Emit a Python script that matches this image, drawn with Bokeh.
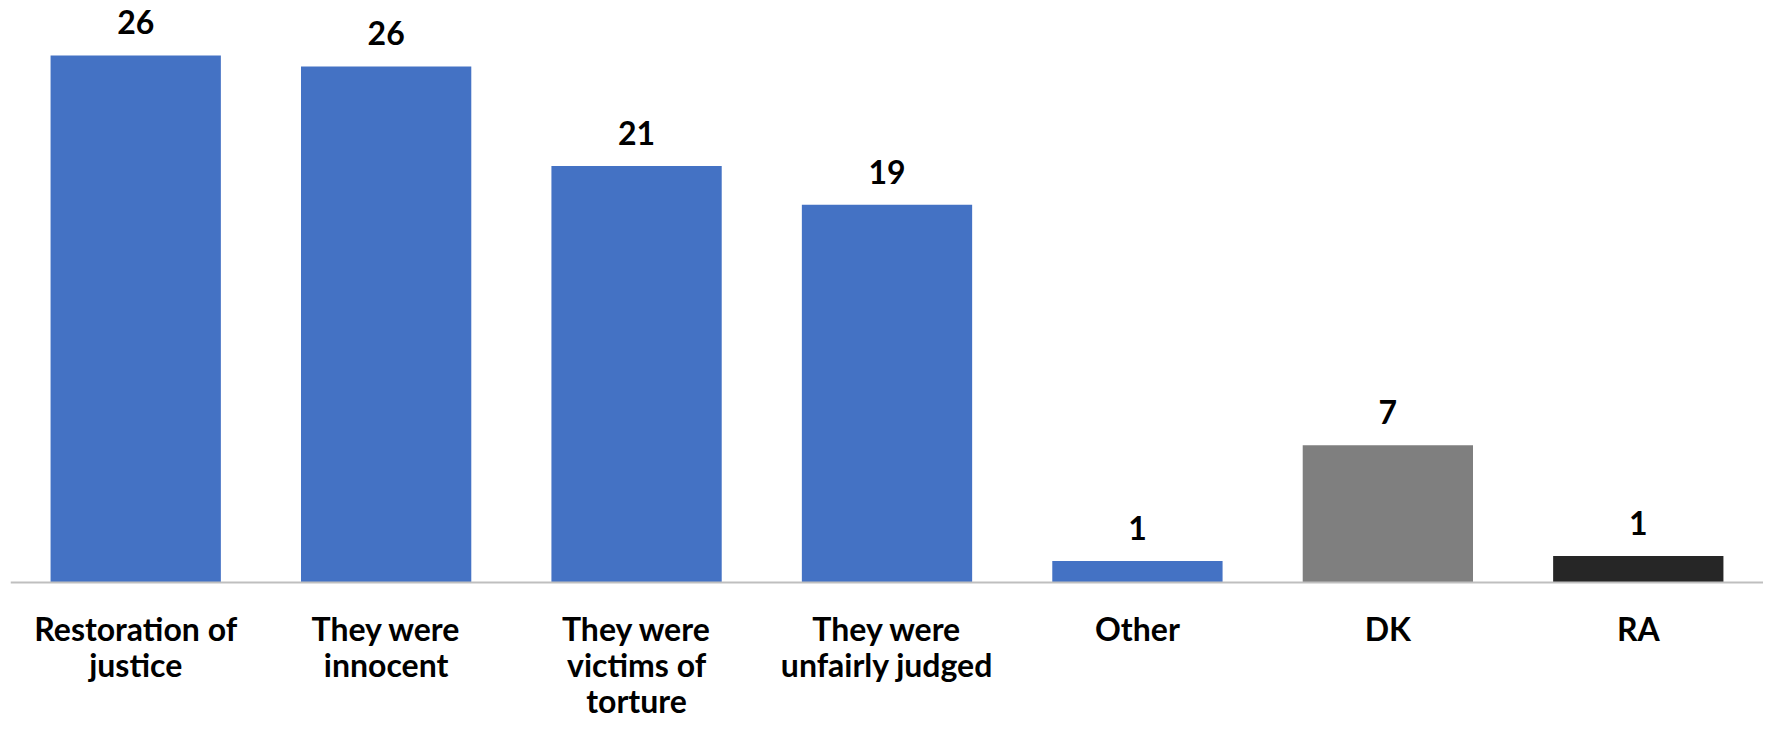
from bokeh.plotting import figure
from bokeh.models import ColumnDataSource, FactorRange, Range1d, Span
from bokeh.core.properties import value
from bokeh.embed import file_html
from bokeh.resources import INLINE

categories = ["Restoration of justice", "They were innocent", "They were victims of torture",
              "They were unfairly judged", "Other", "DK", "RA"]
tick_lines = [["Restoration of", "justice"], ["They were", "innocent"],
              ["They were", "victims of", "torture"], ["They were", "unfairly judged"],
              ["Other"], ["DK"], ["RA"]]
values = [26.55, 26.0, 20.98, 19.03, 1.09, 6.92, 1.34]
labels = ["26", "26", "21", "19", "1", "7", "1"]
colors = ["#4472C4", "#4472C4", "#4472C4", "#4472C4", "#4472C4", "#7F7F7F", "#262626"]

FONT = "Lato"
LINE_GAP = 36
FIRST_LINE = 46

src = ColumnDataSource(dict(cat=categories, val=values, lab=labels, col=colors))

# multi-line category labels, one row per text line
lc, lt, ly = [], [], []
for c, lines in zip(categories, tick_lines):
    for i, t in enumerate(lines):
        lc.append(c)
        lt.append(t)
        ly.append(FIRST_LINE + LINE_GAP * i)
line_src = ColumnDataSource(dict(cat=lc, txt=lt, zero=[0] * len(lc), dy=ly))

p = figure(x_range=FactorRange(*categories, range_padding=0),
           y_range=Range1d(-7.05, 29.32),
           width=1763, height=722, output_backend="svg", toolbar_location=None,
           min_border_left=10, min_border_right=0, min_border_top=0, min_border_bottom=0)
p.outline_line_color = None
p.background_fill_color = "white"
p.border_fill_color = "white"
p.grid.visible = False
p.axis.visible = False

p.vbar(x="cat", top="val", width=0.68, color="col", line_color=None, source=src)

p.add_layout(Span(location=0, dimension="width", line_color="#BFBFBF", line_width=2))

p.text(x="cat", y="val", text="lab", source=src, text_align="center", text_baseline="middle",
       y_offset=-33, text_font=value(FONT), text_font_style="bold", text_font_size="32px",
       text_color="black")

p.text(x="cat", y="zero", text="txt", y_offset="dy", source=line_src,
       text_align="center", text_baseline="middle",
       text_font=value(FONT), text_font_style="bold", text_font_size="32px",
       text_color="black")

open("out.html", "w").write(file_html(p, INLINE))
